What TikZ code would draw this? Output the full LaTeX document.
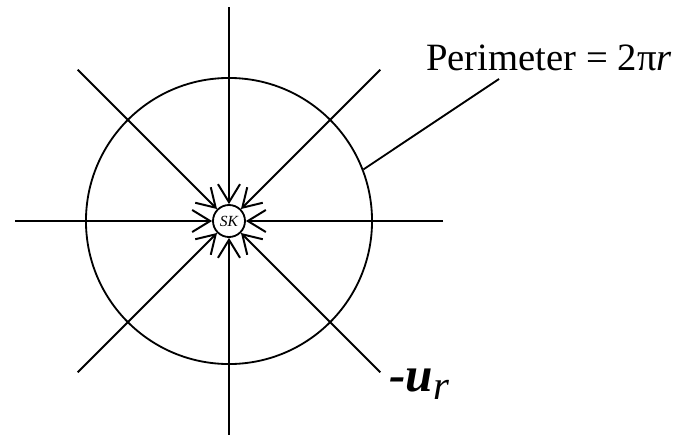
\documentclass[tikz,border=0pt]{standalone}
\usepackage{fontspec}
\setmainfont{Liberation Serif}
\usetikzlibrary{arrows.meta,calc}
\begin{document}
\begin{tikzpicture}[x=0.025cm, y=-0.025cm]
    \tikzstyle{ring}=[draw=black, line width=1.3pt, circle, inner sep=0pt, minimum size=7.15cm]
    \tikzstyle{skbox}=[draw=black, line width=1.3pt, circle, inner sep=0pt, minimum size=0.8cm, font=\fontsize{11}{12}\selectfont\itshape]
    \tikzstyle{inarrow}=[line width=1.3pt, -{Straight Barb[length=4.5mm, width=5.5mm, line width=1.4pt]}]
    \tikzstyle{biglabel}=[inner sep=0pt, font=\fontsize{27.5}{32}\selectfont]

    \useasboundingbox (0,0) rectangle (679,435);

    \node[ring] (ring) at (229,221) {};
    \node[skbox, fill=white] (sk) at (229,221) {SK};

    \foreach \a in {0,45,...,315} {
        \coordinate (end\a) at ($(229,221)+(\a:214)$);
        \draw[inarrow] (end\a) -- (sk);
    }

    \node[biglabel, anchor=base west] (perim) at (426,70) {Perimeter = 2π\textit{r}};
    \coordinate (lead) at (499,79);
    \draw[line width=1.3pt] (lead) -- (ring.21.7);

    \node[biglabel, anchor=base west, font=\fontsize{35}{40}\selectfont] (ur) at (389,391) {\textbf{\textit{-u}}\raisebox{-0.17em}{\fontsize{29}{32}\selectfont\textit{r}}};
\end{tikzpicture}
\end{document}
